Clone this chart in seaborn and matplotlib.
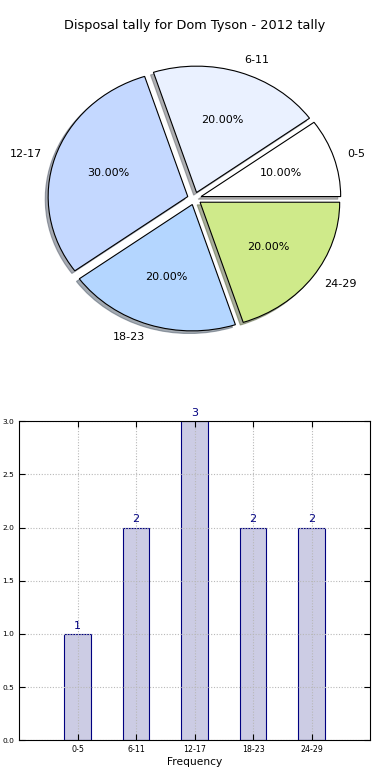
import matplotlib
matplotlib.use("Agg")
import matplotlib.pyplot as plt
import seaborn as sns
import pandas as pd

# data
age_groups = ["0-5", "6-11", "12-17", "18-23", "24-29"]
tally = [1, 2, 3, 2, 2]
slice_colors = ["#ffffff", "#eaf1ff", "#c4d8ff", "#b4d6ff", "#cfea8a"]
title = "Disposal tally for Dom Tyson - 2012 tally"

sns.set_style("white", {"text.color": "black", "axes.labelcolor": "black",
                        "xtick.color": "black", "ytick.color": "black"})
plt.rcParams["font.family"] = ["DejaVu Sans"]

df = pd.DataFrame({"group": age_groups, "tally": tally})

fig = plt.figure(figsize=(3.9, 7.8), dpi=100)

# pie chart
ax1 = fig.add_axes([0.051, 0.543, 0.895, 0.405])
ax1.pie(df["tally"], labels=df["group"], colors=slice_colors,
        explode=[0.05] * len(tally), autopct="%.2f%%",
        shadow={"ox": -0.015, "oy": -0.015, "shade": 0.6},
        startangle=0, wedgeprops={"edgecolor": "black", "linewidth": 0.8},
        textprops={"fontsize": 8, "color": "black"})
ax1.set_aspect("auto")
ax1.set_title(title, fontsize=9.3, pad=8, color="black")

# bar chart
ax2 = fig.add_axes([0.049, 0.051, 0.9, 0.409])
sns.barplot(data=df, x="group", y="tally", ax=ax2, width=0.45,
            color="#ccccE4", edgecolor="#000080", linewidth=0.8, saturation=1)
for i, v in enumerate(df["tally"]):
    ax2.text(i, v + 0.03, str(v), ha="center", va="bottom", color="#000080",
             fontsize=8, clip_on=False)

ax2.set_xlim(-1, 5)
ax2.set_ylim(0, 3)
ax2.set_yticks([0, 0.5, 1.0, 1.5, 2.0, 2.5, 3.0])
ax2.set_yticklabels(["0.0", "0.5", "1.0", "1.5", "2.0", "2.5", "3.0"])
ax2.set_xlabel("Frequency", fontsize=7.7, labelpad=2)
ax2.set_ylabel("")
ax2.tick_params(axis="x", labelsize=5.7, direction="in", length=4, top=True, bottom=True)
ax2.tick_params(axis="y", labelsize=5.4, direction="in", length=4, left=True, right=True)
ax2.grid(True, color="#b8b8b8", linestyle=(0, (1, 1.5)), linewidth=0.8)
ax2.set_axisbelow(False)
for sp in ax2.spines.values():
    sp.set_color("black")
    sp.set_linewidth(0.8)
    sp.set_zorder(5)

fig.savefig("out.png", dpi=100)
